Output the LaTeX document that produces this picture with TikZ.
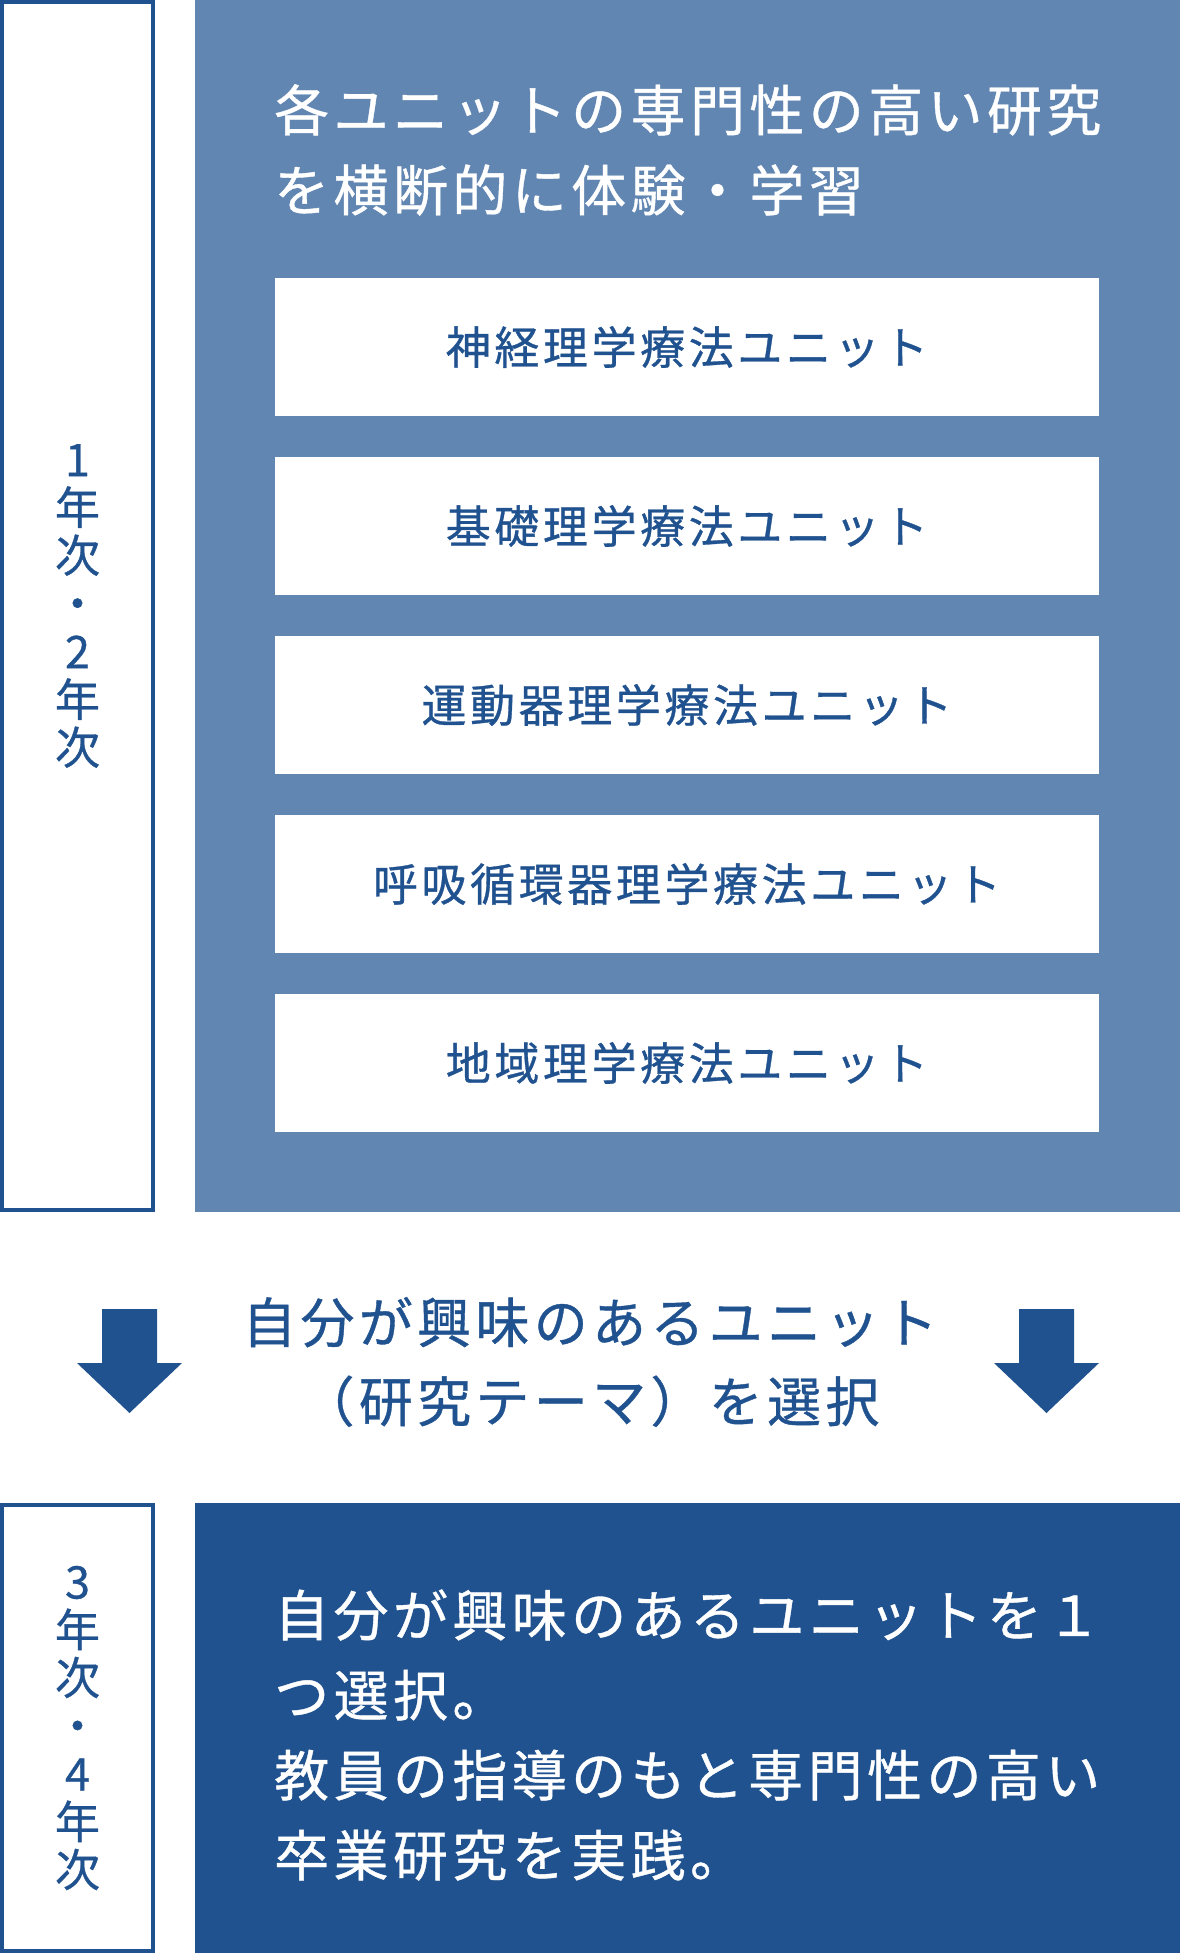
\documentclass[tikz,border=0pt]{standalone}
\usepackage{fontspec}
\setmainfont{Noto Sans CJK JP}[LetterSpace=8,FakeBold=0.7]
\usepackage{tikz}
\usetikzlibrary{positioning}
\definecolor{deepblue}{RGB}{32,82,143}
\definecolor{paleblue}{RGB}{98,134,178}
\tikzset{yearbox/.style={rectangle,draw=deepblue,line width=4pt,fill=white,minimum width=151pt,text=deepblue,align=center,font=\fontsize{45}{48}\selectfont},
  panel/.style={rectangle,minimum width=985pt,inner sep=0pt},
  unit/.style={rectangle,fill=white,text=deepblue,minimum width=824pt,minimum height=138pt,font=\fontsize{45}{48}\selectfont},
  bigtext/.style={inner sep=0pt,font=\fontsize{55}{80}\selectfont}}

\begin{document}
\begin{tikzpicture}[x=1pt,y=-1pt]
        \useasboundingbox (0,0) rectangle (1180,1953);

        % 1-2 years
        \node[yearbox,minimum height=1208pt] (y12) at (77.5,606) {1\\年\\次\\・\\2\\年\\次};
        \node[panel,fill=paleblue,minimum height=1212pt] (top) at (687.5,606) {};
        \node[bigtext,text=white,anchor=west,align=left] (head) at (274,150) {各ユニットの専門性の高い研究\\を横断的に体験・学習};

        \node[unit] (u1) at (687,347) {神経理学療法ユニット};
        \node[unit] (u2) at (687,526) {基礎理学療法ユニット};
        \node[unit] (u3) at (687,705) {運動器理学療法ユニット};
        \node[unit] (u4) at (687,884) {呼吸循環器理学療法ユニット};
        \node[unit] (u5) at (687,1063) {地域理学療法ユニット};

        % choice
        \node[bigtext,text=deepblue,align=center,font=\fontsize{54}{79}\selectfont] (pick) at (590,1362) {自分が興味のあるユニット\\（研究テーマ）を選択};
        \fill[deepblue] (129.5,1309) ++(-27.5,0) -- ++(55,0) -- ++(0,54) -- ++(25,0) -- ++(-52.5,50) -- ++(-52.5,-50) -- ++(25,0) -- cycle;
        \fill[deepblue] (1046.5,1309) ++(-27.5,0) -- ++(55,0) -- ++(0,54) -- ++(25,0) -- ++(-52.5,50) -- ++(-52.5,-50) -- ++(25,0) -- cycle;

        % 3-4 years
        \node[yearbox,minimum height=446pt] (y34) at (77.5,1728) {3\\年\\次\\・\\4\\年\\次};
        \node[panel,fill=deepblue,minimum height=450pt] (bottom) at (687.5,1728) {};
        \node[bigtext,text=white,anchor=west,align=left] (goal) at (274,1735) {自分が興味のあるユニットを１\\つ選択。\\教員の指導のもと専門性の高い\\卒業研究を実践。};
\end{tikzpicture}
\end{document}
